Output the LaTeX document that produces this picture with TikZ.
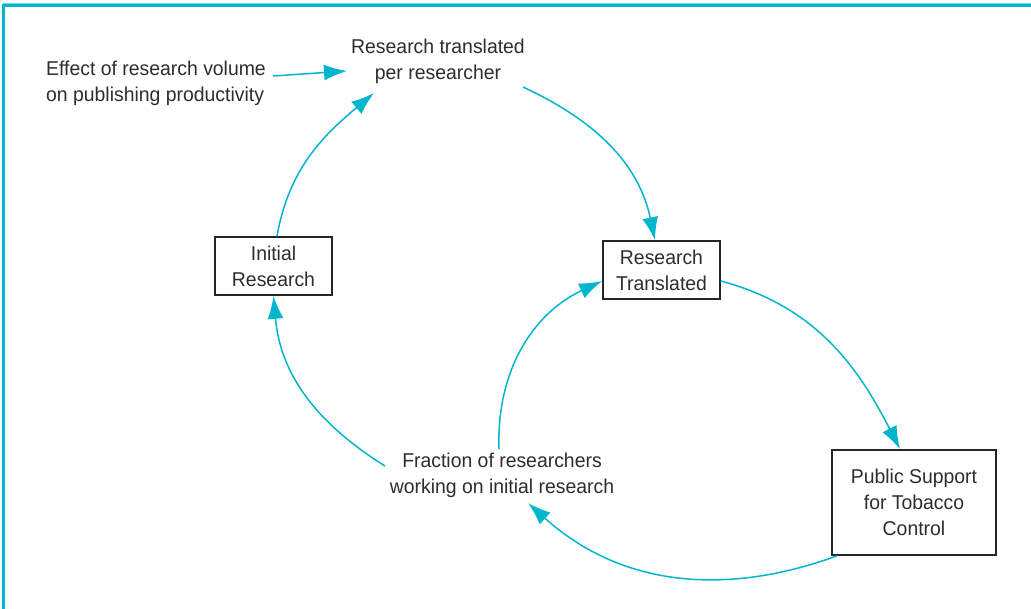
\documentclass[tikz,border=0pt]{standalone}
\usepackage{fontspec}
\setmainfont[FakeStretch=0.97]{Liberation Sans}
\usetikzlibrary{arrows.meta}
\definecolor{cy}{RGB}{0,182,206}
\definecolor{cylight}{RGB}{120,215,228}
\definecolor{txt}{RGB}{45,45,45}
\tikzset{
  lbl/.style={inner sep=0pt, text=txt, font=\fontsize{20}{26}\selectfont, align=center},
  stock/.style={draw=black!85, line width=1.6pt, inner sep=0pt, text=txt,
                font=\fontsize{20}{26}\selectfont, align=center},
  link/.style={draw=cy, line width=1.5pt, -{Latex[length=23pt,width=16pt]}},
  frame/.style={draw=cy, line width=3pt}
}
\begin{document}
\begin{tikzpicture}[x=1pt,y=-1pt]
\useasboundingbox (0,0) rectangle (1031,609);
% frame
\draw[cylight, line width=0.8pt] (3,3.6) -- (1031,3.6);
\draw[frame] (1.5,6) -- (1031,6);
\draw[frame] (3,6) -- (3,609);
% nodes
\node[lbl, align=left] (eff) at (156,83) {Effect of research volume\\on publishing productivity};
\node[lbl] (rt) at (438,61) {Research translated\\per researcher};
\node[stock, minimum width=117pt, minimum height=58pt] (init) at (273.5,266) {Initial\\Research};
\node[stock, minimum width=117pt, minimum height=58pt] (rtr) at (661.5,270) {Research\\Translated};
\node[stock, minimum width=164pt, minimum height=105pt] (ps) at (914,502.5) {Public Support\\for Tobacco\\Control};
\node[lbl] (frac) at (502,475) {Fraction of researchers\\working on initial research};
% connectors
\draw[link] ([xshift=7pt,yshift=7pt]eff.east) -- ([xshift=-91pt,yshift=-10pt]rt.center);
\draw[link] ([xshift=3.5pt]init.north) to[out=80,in=220] ([xshift=-64pt,yshift=-32pt]rt.center);
\draw[link] ([xshift=85pt,yshift=-26pt]rt.center) to[out=-25,in=102] ([xshift=-6.5pt]rtr.north);
\draw[link] ([yshift=-11pt]rtr.east) to[out=-15,in=117] ([xshift=-14pt]ps.north);
\draw[link] ([xshift=6pt]ps.south west) to[out=200,in=-42] ([xshift=26pt,yshift=-28pt]frac.center);
\draw[link] ([xshift=-3pt,yshift=26pt]frac.center) to[out=92,in=205] ([yshift=-11pt]rtr.west);
\draw[link] ([xshift=-117pt,yshift=9pt]frac.center) to[out=148,in=-85] (init.south);
\end{tikzpicture}
\end{document}
